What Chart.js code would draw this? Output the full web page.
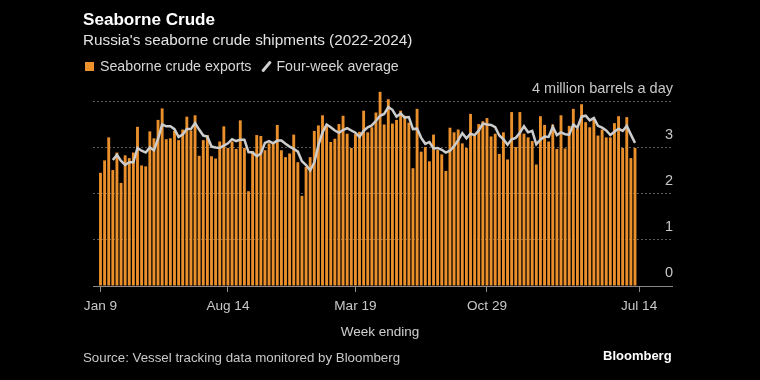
<!DOCTYPE html>
<html>
<head>
<meta charset="utf-8">
<script src="https://cdn.jsdelivr.net/npm/chart.js@4.4.1/dist/chart.umd.min.js"></script>
<style>
  html, body { margin: 0; padding: 0; background: #000; }
  #wrap { position: relative; width: 760px; height: 380px; background: #000; overflow: hidden; font-family: "Liberation Sans", Arial, sans-serif; }
  #c { position: absolute; left: 0; top: 0; }
  .t { position: absolute; white-space: nowrap; line-height: 1; }
  #title { left: 83px; top: 11px; font-size: 17.1px; font-weight: bold; color: #fff; }
  #subtitle { left: 83px; top: 32px; font-size: 15.3px; color: #e2e2e2; }
  #legend { left: 85px; top: 59px; font-size: 14.2px; color: #d6d6d6; }
  .sw { display: inline-block; width: 9px; height: 9px; background: #ec922c; vertical-align: 0px; margin-right: 6px; }
  .ln { display: inline-block; width: 3px; height: 13px; background: #cfcfcf; transform: rotate(40deg); vertical-align: -2px; margin: 0 8px 0 14px; border-radius: 1px; }
  #xtitle { left: 0; width: 760px; text-align: center; top: 325px; font-size: 13.5px; color: #cfcfcf; }
  #source { left: 83px; top: 351px; font-size: 13.3px; color: #c8c8c8; }
  #brand { left: 603px; top: 349px; font-size: 13px; font-weight: bold; color: #fff; }
</style>
</head>
<body>
<div id="wrap">
  <canvas id="c" width="760" height="380"></canvas>
  <div class="t" id="title">Seaborne Crude</div>
  <div class="t" id="subtitle">Russia's seaborne crude shipments (2022-2024)</div>
  <div class="t" id="legend"><span class="sw"></span>Seaborne crude exports<span class="ln"></span>Four-week average</div>
  <div class="t" id="xtitle">Week ending</div>
  <div class="t" id="source">Source: Vessel tracking data monitored by Bloomberg</div>
  <div class="t" id="brand">Bloomberg</div>
</div>
<script>
// Tick labels on the week axis and the week index (from Jan 9) where each sits
const tickLabels = ['Jan 9', 'Aug 14', 'Mar 19', 'Oct 29', 'Jul 14'];
const tickWeeks = [0, 31, 62, 94, 131];

// Weekly seaborne crude exports, million barrels a day
const seaborneExports = [
  2.46, 2.73, 3.23, 2.52, 2.90, 2.24, 2.84, 2.78, 2.90, 3.46,
  2.62, 2.60, 3.36, 3.21, 3.61, 3.86, 3.19, 3.21, 3.37, 3.17,
  3.40, 3.68, 3.38, 3.71, 2.83, 3.17, 3.28, 2.82, 2.77, 3.14,
  3.47, 3.00, 3.14, 2.98, 3.60, 3.00, 2.06, 2.93, 3.28, 3.26,
  2.95, 3.10, 3.10, 3.50, 2.95, 2.80, 2.88, 3.29, 2.69, 1.96,
  2.59, 2.80, 3.37, 3.49, 3.71, 3.47, 3.13, 3.20, 3.52, 3.70,
  3.31, 3.00, 3.30, 3.35, 3.81, 3.34, 3.45, 3.77, 4.22, 3.51,
  4.06, 3.53, 3.61, 3.81, 3.70, 3.55, 2.56, 3.85, 2.92, 3.02,
  2.71, 3.29, 2.96, 2.86, 2.50, 3.44, 3.34, 3.40, 3.10, 3.00,
  3.74, 3.27, 3.52, 3.58, 3.65, 3.25, 3.31, 2.87, 3.34, 2.75,
  3.78, 3.02, 3.78, 3.31, 3.23, 3.15, 2.64, 3.69, 3.50, 3.14,
  3.51, 2.98, 3.71, 2.99, 3.48, 3.85, 3.42, 3.95, 3.56, 3.45,
  3.62, 3.27, 3.40, 3.23, 3.23, 3.54, 3.69, 3.00, 3.67, 2.78,
  3.00
];

// Four-week average line (starts at the fourth week)
const fourWeekAverage = [
  null, null, null, 2.74, 2.85, 2.72, 2.63, 2.69, 2.69, 3.00,
  2.94, 2.90, 3.01, 2.95, 3.20, 3.51, 3.47, 3.47, 3.41, 3.24,
  3.29, 3.41, 3.41, 3.54, 3.40, 3.27, 3.25, 3.03, 3.01, 3.00,
  3.05, 3.10, 3.19, 3.15, 3.18, 3.18, 2.91, 2.90, 2.82, 2.88,
  3.11, 3.15, 3.10, 3.16, 3.16, 3.09, 3.03, 2.98, 2.92, 2.71,
  2.63, 2.51, 2.68, 3.06, 3.34, 3.51, 3.45, 3.38, 3.33, 3.39,
  3.43, 3.38, 3.33, 3.24, 3.37, 3.45, 3.49, 3.59, 3.70, 3.74,
  3.89, 3.83, 3.68, 3.75, 3.66, 3.67, 3.41, 3.42, 3.22, 3.09,
  3.13, 2.99, 3.00, 2.96, 2.90, 2.94, 3.04, 3.17, 3.32, 3.21,
  3.31, 3.28, 3.38, 3.53, 3.51, 3.50, 3.45, 3.27, 3.19, 3.07,
  3.19, 3.22, 3.33, 3.47, 3.34, 3.37, 3.08, 3.18, 3.25, 3.24,
  3.46, 3.28, 3.34, 3.30, 3.29, 3.51, 3.44, 3.68, 3.70, 3.60,
  3.65, 3.48, 3.44, 3.38, 3.28, 3.35, 3.42, 3.37, 3.48, 3.29,
  3.11
];

// Y-axis tick values
const yTicks = [0, 1, 2, 3, 4];
const yUnitLabel = '4 million barrels a day';

const barPoints = seaborneExports.map((v, i) => ({ x: i, y: v }));
const linePoints = fourWeekAverage.map((v, i) => ({ x: i, y: v }));

const tickFont = { family: '"Liberation Sans", Arial, sans-serif', size: 13.6 };

new Chart(document.getElementById('c'), {
  type: 'bar',
  data: {
    datasets: [
      {
        type: 'line',
        label: 'Four-week average',
        data: linePoints,
        borderColor: '#cdcdcd',
        borderWidth: 2.5,
        pointRadius: 0,
        tension: 0,
        spanGaps: false,
        order: 0
      },
      {
        type: 'bar',
        label: 'Seaborne crude exports',
        data: barPoints,
        backgroundColor: '#e98f2b',
        borderWidth: 0,
        barPercentage: 0.7,
        categoryPercentage: 1.0,
        order: 1
      }
    ]
  },
  options: {
    responsive: false,
    animation: false,
    devicePixelRatio: 1,
    layout: { padding: { left: 93, right: 86, top: 84, bottom: 64 } },
    plugins: { legend: { display: false }, tooltip: { enabled: false }, title: { display: false } },
    scales: {
      x: {
        type: 'linear',
        min: -1.82,
        max: 139.0,
        offset: false,
        afterBuildTicks: (scale) => { scale.ticks = tickWeeks.map(v => ({ value: v })); },
        afterFit: (scale) => { scale.height = 30; },
        ticks: {
          autoSkip: false,
          maxRotation: 0,
          color: '#c8c8c8',
          font: tickFont,
          padding: 6,
          callback: (v) => { const k = tickWeeks.indexOf(v); return k >= 0 ? tickLabels[k] : ''; }
        },
        grid: { offset: false, drawOnChartArea: false, drawTicks: true, tickLength: 6, tickColor: '#8a8a8a', tickWidth: 1 },
        border: { display: true, color: '#8a8a8a', width: 1 }
      },
      y: {
        position: 'right',
        min: 0,
        max: 4.39,
        afterBuildTicks: (scale) => { scale.ticks = yTicks.map(v => ({ value: v })); },
        ticks: {
          mirror: true,
          padding: 1,
          labelOffset: -13,
          color: '#c8c8c8',
          font: { family: '"Liberation Sans", Arial, sans-serif', size: 14.5 },
          callback: (v) => (v === 4 ? yUnitLabel : String(v))
        },
        grid: { drawTicks: false, color: '#5a5a5a', lineWidth: 1 },
        border: { display: false, dash: [2, 2] }
      }
    }
  }
});
</script>
</body>
</html>
